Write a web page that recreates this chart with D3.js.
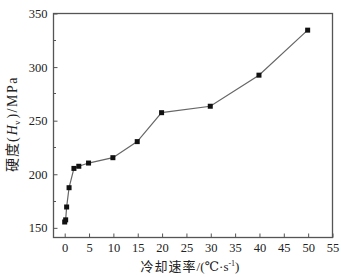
<!DOCTYPE html>
<html>
<head>
<meta charset="utf-8">
<script src="https://cdn.jsdelivr.net/npm/d3@7"></script>
<style>
  body { margin: 0; background: #fff; }
  svg { display: block; }
</style>
</head>
<body>
<svg id="chart" width="341" height="277"></svg>
<script>
// 数据
const coolingRate = [0.1, 0.3, 0.5, 1, 2, 3, 5, 10, 15, 20, 30, 40, 50];
const hardness = [155, 157, 169, 187, 205, 207, 210, 215, 230, 257, 263, 292, 334];
const xTicks = [0, 5, 10, 15, 20, 25, 30, 35, 40, 45, 50, 55];
const yTicks = [150, 200, 250, 300, 350];
const yMinorTicks = [175, 225, 275, 325];

const width = 341;
const height = 277;
const margin = { left: 53, top: 13, right: 9, bottom: 40 };
const axisColor = '#555';
const numFont = '"Liberation Serif", "DejaVu Serif", serif';
const cjkFont = '"Noto Sans CJK SC", sans-serif';

const svg = d3.select('#chart');

const x = d3.scaleLinear()
  .domain([-2.3, 55])
  .range([margin.left, width - margin.right]);
const y = d3.scaleLinear()
  .domain([141, 350])
  .range([height - margin.bottom, margin.top]);

// 外框
svg.append('rect')
  .attr('x', margin.left + 0.5)
  .attr('y', margin.top + 0.5)
  .attr('width', width - margin.left - margin.right)
  .attr('height', height - margin.top - margin.bottom)
  .attr('fill', 'none')
  .attr('stroke', axisColor)
  .attr('stroke-width', 1.3);

// x 轴
const xAxis = d3.axisBottom(x)
  .tickValues(xTicks)
  .tickSize(-4)
  .tickPadding(6)
  .tickFormat(d3.format('d'));
const gx = svg.append('g')
  .attr('transform', `translate(0.5,${height - margin.bottom + 0.5})`)
  .call(xAxis);
gx.select('.domain').remove();
gx.selectAll('line').attr('stroke', axisColor);
gx.selectAll('text')
  .attr('fill', '#222')
  .attr('font-family', numFont)
  .attr('font-size', 12.5);

// y 轴
const yAxis = d3.axisLeft(y)
  .tickValues(yTicks)
  .tickSize(-4)
  .tickPadding(6)
  .tickFormat(d3.format('d'));
const gy = svg.append('g')
  .attr('transform', `translate(${margin.left + 0.5},0.5)`)
  .call(yAxis);
gy.select('.domain').remove();
gy.selectAll('line').attr('stroke', axisColor);
gy.selectAll('text')
  .attr('fill', '#222')
  .attr('font-family', numFont)
  .attr('font-size', 12.5);

// 次刻度
svg.append('g')
  .selectAll('line')
  .data(yMinorTicks)
  .enter()
  .append('line')
  .attr('x1', margin.left + 0.5)
  .attr('x2', margin.left + 3)
  .attr('y1', d => Math.round(y(d)) + 0.5)
  .attr('y2', d => Math.round(y(d)) + 0.5)
  .attr('stroke', axisColor);

// 折线
const points = coolingRate.map((d, i) => [d, hardness[i]]);
const line = d3.line()
  .x(d => x(d[0]))
  .y(d => y(d[1]));
svg.append('path')
  .datum(points)
  .attr('d', line)
  .attr('fill', 'none')
  .attr('stroke', '#666')
  .attr('stroke-width', 1.2);

// 标记
const s = 5;
svg.append('g')
  .selectAll('rect')
  .data(points)
  .enter()
  .append('rect')
  .attr('x', d => x(d[0]) - s / 2)
  .attr('y', d => y(d[1]) - s / 2)
  .attr('width', s)
  .attr('height', s)
  .attr('fill', '#111');

// x 轴标题
const xt = svg.append('text')
  .attr('x', 190)
  .attr('y', 271)
  .attr('text-anchor', 'middle')
  .attr('font-size', 13)
  .attr('fill', '#222');
xt.append('tspan').attr('font-family', cjkFont).attr('letter-spacing', 1).text('冷却速率');
xt.append('tspan').attr('font-family', numFont).text('/(℃·s');
xt.append('tspan').attr('font-family', numFont).attr('font-size', 8).attr('dy', -5).text('-1');
xt.append('tspan').attr('font-family', numFont).attr('dy', 5).text(')');

// y 轴标题
const yt = svg.append('text')
  .attr('transform', 'translate(17,124) rotate(-90)')
  .attr('text-anchor', 'middle')
  .attr('font-size', 14)
  .attr('fill', '#222');
yt.append('tspan').attr('font-family', cjkFont).attr('letter-spacing', 1).text('硬度');
yt.append('tspan').attr('font-family', numFont).attr('letter-spacing', 2).text('(');
yt.append('tspan').attr('font-family', numFont).attr('font-style', 'italic').text('H');
yt.append('tspan').attr('font-family', numFont).attr('font-size', 9).attr('dy', 3).attr('letter-spacing', 2).text('v');
yt.append('tspan').attr('font-family', numFont).attr('dy', -3).attr('letter-spacing', 1.5).text(')/MPa');
</script>
</body>
</html>
